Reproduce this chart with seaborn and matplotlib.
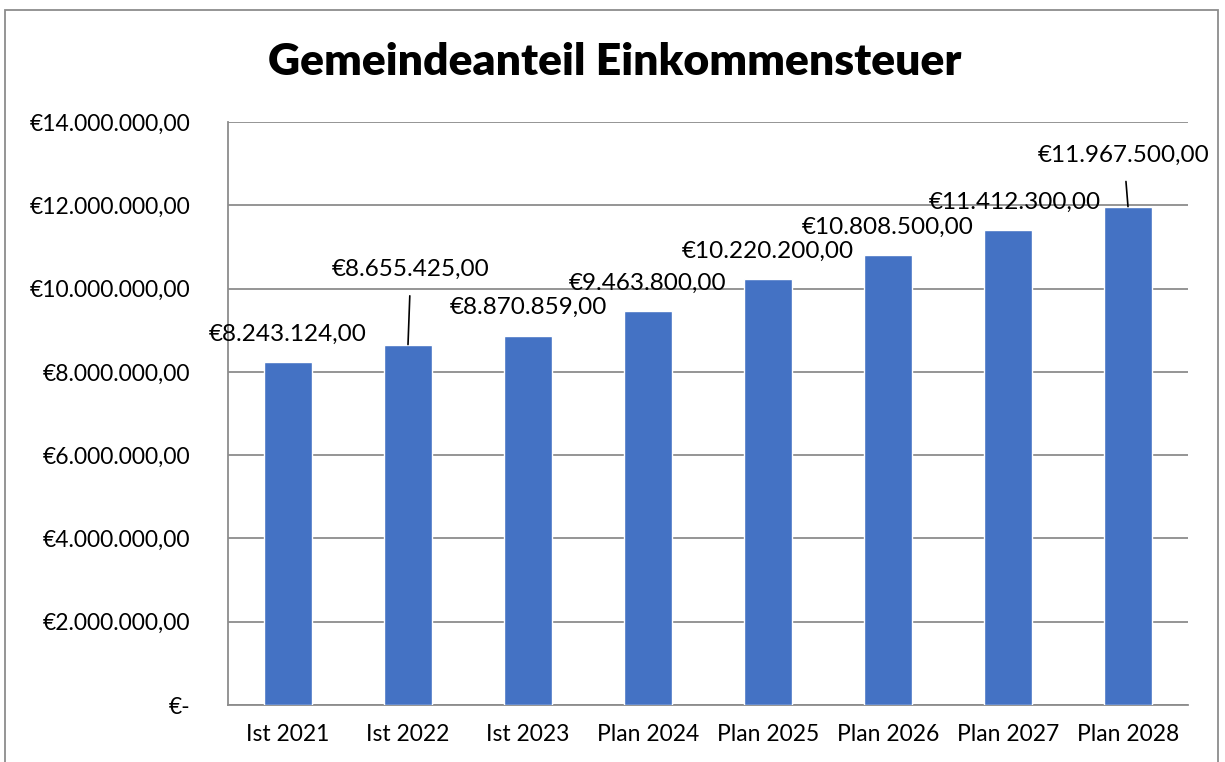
import matplotlib
matplotlib.use("Agg")
import matplotlib.pyplot as plt
import seaborn as sns
import pandas as pd

categories = ["Ist 2021", "Ist 2022", "Ist 2023", "Plan 2024",
              "Plan 2025", "Plan 2026", "Plan 2027", "Plan 2028"]
values = [8243124.00, 8655425.00, 8870859.00, 9463800.00,
          10220200.00, 10808500.00, 11412300.00, 11967500.00]
value_labels = ["€8.243.124,00", "€8.655.425,00", "€8.870.859,00", "€9.463.800,00",
                "€10.220.200,00", "€10.808.500,00", "€11.412.300,00", "€11.967.500,00"]
y_ticks = [0, 2000000, 4000000, 6000000, 8000000, 10000000, 12000000, 14000000]
y_tick_labels = ["€-", "€2.000.000,00", "€4.000.000,00", "€6.000.000,00",
                 "€8.000.000,00", "€10.000.000,00", "€12.000.000,00", "€14.000.000,00"]
title = "Gemeindeanteil Einkommensteuer"

# label offsets in points (dx, dy) and whether a leader line is drawn
label_offsets = [(0, 20), (2, 54), (0, 20), (0, 20), (0, 20), (0, 20), (5, 20), (-3, 37)]
leaders = [False, True, False, False, False, False, False, True]

df = pd.DataFrame({"cat": categories, "val": values})

sns.set_theme(style="white")
plt.rcParams["font.family"] = ["Lato", "DejaVu Sans"]
plt.rcParams["text.color"] = "black"
plt.rcParams["xtick.color"] = "black"
plt.rcParams["ytick.color"] = "black"

fig = plt.figure(figsize=(12.25, 7.62), dpi=100)
ax = fig.add_axes([228 / 1225, 1 - 705 / 762, 960 / 1225, 583 / 762])

sns.barplot(data=df, x="cat", y="val", color="#4472C4", width=0.4,
            saturation=1, ax=ax, zorder=3)

ax.set_ylim(0, 14000000)
ax.set_xlim(-0.5, len(categories) - 0.5)
ax.set_yticks(y_ticks)
ax.set_yticklabels(y_tick_labels, fontsize=16.5)
ax.set_xticks(range(len(categories)))
ax.set_xticklabels(categories, fontsize=16.5)
ax.set_xlabel("")
ax.set_ylabel("")

ax.grid(axis="y", color="#8c8c8c", linewidth=1.3, zorder=0)
for s in ["top", "right"]:
    ax.spines[s].set_visible(False)
for s in ["left", "bottom"]:
    ax.spines[s].set_color("#8c8c8c")
    ax.spines[s].set_linewidth(1.3)

# category tick marks sit between bars
ax.set_xticks([i + 0.5 for i in range(-1, len(categories))], minor=True)
ax.tick_params(axis="x", which="major", length=0, pad=14, labelcolor="black")
ax.tick_params(axis="x", which="minor", length=7, width=1.3, color="#8c8c8c", direction="out")
ax.tick_params(axis="y", length=7, width=1.3, color="#8c8c8c", direction="out",
               pad=20, labelcolor="black")

for i, (v, lab) in enumerate(zip(values, value_labels)):
    dx, dy = label_offsets[i]
    props = dict(arrowstyle="-", color="black", lw=1.2, shrinkA=9, shrinkB=0) if leaders[i] else None
    ax.annotate(lab, xy=(i, v), xytext=(dx, dy), textcoords="offset points",
                ha="center", va="center", fontsize=17.5, color="black",
                arrowprops=props, zorder=5)

fig.text(615 / 1225, 1 - 62 / 762, title, ha="center", va="center",
         fontsize=32, fontweight="heavy", color="black")

# outer chart frame
frame = plt.Rectangle((5 / 1225, -0.01), 1213 / 1225, 1 - 10 / 762 + 0.01,
                      transform=fig.transFigure, fill=False,
                      edgecolor="#8c8c8c", linewidth=1.3)
fig.patches.append(frame)

fig.savefig("out.png", dpi=100)
